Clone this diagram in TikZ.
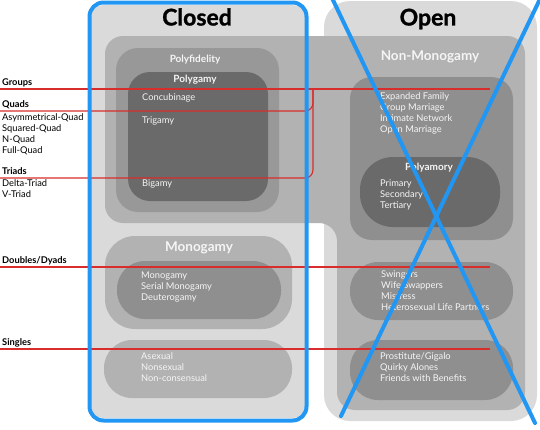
\documentclass[tikz,border=0pt]{standalone}
\usepackage{fontspec}
\setmainfont{Lato}
\newfontfamily\headfont{Lato}[BoldFeatures={FakeBold=1.2}]
\definecolor{lightg}{RGB}{218,218,218}
\definecolor{medg}{RGB}{178,178,178}
\definecolor{pfg}{RGB}{152,152,152}
\definecolor{darkg}{RGB}{143,143,143}
\definecolor{darkestg}{RGB}{106,106,106}
\definecolor{redc}{RGB}{215,45,45}
\definecolor{bluec}{RGB}{33,150,243}
\definecolor{wtc}{RGB}{245,245,245}
\begin{document}
\begin{tikzpicture}[x=1pt,y=-1pt,
  txt/.style={anchor=west,inner sep=0pt,text height=6.5pt,text depth=2pt,font=\fontsize{9.3}{11}\selectfont},
  lbl/.style={txt},
  lblb/.style={txt,font=\fontsize{9.3}{11}\selectfont\bfseries},
  wt/.style={txt,text=wtc},
  ttl/.style={inner sep=0pt,text=wtc,font=\fontsize{10}{12}\selectfont\bfseries},
  bigttl/.style={inner sep=0pt,text=wtc,font=\fontsize{13.5}{16}\selectfont\bfseries},
  head/.style={inner sep=0pt,text=black,font=\headfont\fontsize{23}{26}\selectfont\bfseries},
  redline/.style={draw=redc,line width=1.1pt},
  blueline/.style={draw=bluec,line width=4pt,line cap=round}]
\useasboundingbox (0,0) rectangle (540,429);
% backgrounds
\fill[lightg,rounded corners=12pt] (91,5) rectangle (305,418);
\fill[lightg,rounded corners=26pt] (324,1) rectangle (537,421);
% non-monogamy band
\fill[medg,rounded corners=18pt] (105,223) -- (105,36) -- (525,36) -- (525,410) -- (337,410) -- (337,223) -- cycle;
% closed boxes
\fill[pfg,rounded corners=22pt] (116,48) rectangle (279,212);
\fill[darkestg,rounded corners=22pt] (128,72) rectangle (268,201);
\fill[medg,rounded corners=30pt] (105,236) rectangle (292,329);
\fill[darkg,rounded corners=28pt] (117,261) rectangle (281,319);
\fill[medg,rounded corners=28pt] (104,340) rectangle (292,398);
% open boxes
\fill[darkg,rounded corners=22pt] (350,77) rectangle (513,240);
\fill[darkestg,rounded corners=33pt] (360,157) rectangle (500,227);
\fill[darkg,rounded corners=28pt] (350,262) rectangle (513,320);
\fill[darkg,rounded corners=28pt] (350,340) rectangle (513,400);
% red lines
\coordinate (gL) at (0,89); \coordinate (gR) at (490,89);
\coordinate (qL) at (0,111); \coordinate (bT) at (313,89);
\coordinate (tL) at (0,178);
\coordinate (dL) at (0,267); \coordinate (dR) at (490,267);
\coordinate (sL) at (0,349); \coordinate (sR) at (490,349);
\draw[redline] (gL) -- (gR);
\draw[redline,rounded corners=8pt] (qL) -| (bT);
\draw[redline,rounded corners=8pt] (tL) -| (bT);
\draw[redline] (dL) -- (dR);
\draw[redline] (sL) -- (sR);
% headings
\node[head] (closed) at (197,17) {Closed};
\node[head] (open) at (428,19) {Open};
\node[bigttl] (nonmono) at (430,57) {Non-Monogamy};
\node[ttl] (polyfid) at (195,60) {Polyfidelity};
\node[ttl] (polyg) at (195,80) {Polygamy};
\node[bigttl] (mono) at (199,248) {Monogamy};
\node[ttl] (polyam) at (429,168) {Polyamory};
% left labels
\node[lblb] (groups) at (2,83) {Groups};
\node[lblb] (quads) at (2,105) {Quads};
\node[lbl] (q1) at (2,118) {Asymmetrical-Quad};
\node[lbl] (q2) at (2,129) {Squared-Quad};
\node[lbl] (q3) at (2,140) {N-Quad};
\node[lbl] (q4) at (2,151) {Full-Quad};
\node[lblb] (triads) at (2,172) {Triads};
\node[lbl] (t1) at (2,184) {Delta-Triad};
\node[lbl] (t2) at (2,195) {V-Triad};
\node[lblb] (doubles) at (2,261) {Doubles/Dyads};
\node[lblb] (singles) at (2,343) {Singles};
% closed texts
\node[wt] (concub) at (142,98) {Concubinage};
\node[wt] (trig) at (142,121) {Trigamy};
\node[wt] (big) at (142,184) {Bigamy};
\node[wt] (m1) at (141,276) {Monogamy};
\node[wt] (m2) at (141,287) {Serial Monogamy};
\node[wt] (m3) at (141,298) {Deuterogamy};
\node[wt] (s1) at (141,357) {Asexual};
\node[wt] (s2) at (141,368) {Nonsexual};
\node[wt] (s3) at (141,379) {Non-consensual};
% open texts
\node[wt] (o1) at (380,97) {Expanded Family};
\node[wt] (o2) at (380,108) {Group Marriage};
\node[wt] (o3) at (380,119) {Intimate Network};
\node[wt] (o4) at (380,130) {Open Marriage};
\node[wt] (p1) at (380,184) {Primary};
\node[wt] (p2) at (380,195) {Secondary};
\node[wt] (p3) at (380,206) {Tertiary};
\node[wt] (w1) at (381,275) {Swingers};
\node[wt] (w2) at (381,286) {Wife Swappers};
\node[wt] (w3) at (381,297) {Mistress};
\node[wt] (w4) at (381,308) {Heterosexual Life Partners};
\node[wt] (f1) at (380,357) {Prostitute/Gigalo};
\node[wt] (f2) at (380,368) {Quirky Alones};
\node[wt] (f3) at (380,379) {Friends with Benefits};
% blue frame and cross
\draw[draw=bluec,line width=4pt,rounded corners=14pt] (89.5,2.5) rectangle (306.5,420.5);
\coordinate (x1a) at (332,-2); \coordinate (x1b) at (535,423);
\coordinate (x2a) at (540,-1); \coordinate (x2b) at (341,416);
\draw[blueline] (x1a) -- (x1b);
\draw[blueline] (x2a) -- (x2b);
\end{tikzpicture}
\end{document}
